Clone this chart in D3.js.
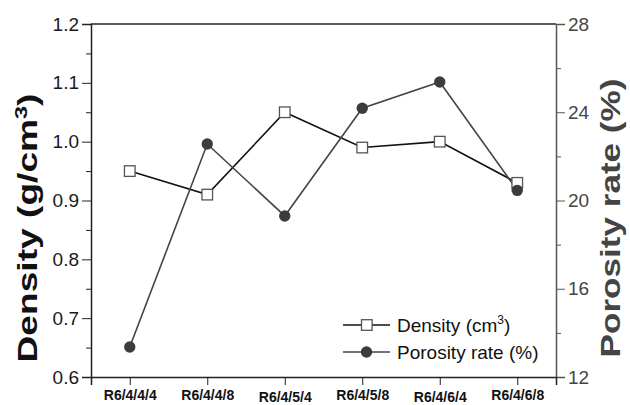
<!DOCTYPE html>
<html><head><meta charset="utf-8">
<script src="https://cdn.jsdelivr.net/npm/d3@7"></script>
<style>body{margin:0;background:#fff}svg{display:block}text{font-family:"Liberation Sans",Arial,sans-serif}</style>
</head><body><svg id="c" width="630" height="405"></svg>
<script>
const categories = ["R6/4/4/4","R6/4/4/8","R6/4/5/4","R6/4/5/8","R6/4/6/4","R6/4/6/8"];
const density = [0.95, 0.91, 1.05, 0.99, 1.00, 0.93];
const porosity = [13.36, 22.56, 19.30, 24.18, 25.37, 20.46];
const leftTicks = [0.6,0.7,0.8,0.9,1.0,1.1,1.2];
const leftMinor = [0.65,0.75,0.85,0.95,1.05,1.15];
const rightTicks = [12,16,20,24,28];
const rightMinor = [14,18,22,26];

const FF = "Liberation Sans, Arial, sans-serif";
const svg = d3.select("#c");
const L=91,R=556,T=24,B=377;
const x = d3.scaleLinear().domain([0.5,6.5]).range([L,R]);
const yL = d3.scaleLinear().domain([0.6,1.2]).range([B,T]);
const yR = d3.scaleLinear().domain([12,28]).range([B,T]);

// top frame
svg.append("line").attr("x1",L).attr("x2",R).attr("y1",T).attr("y2",T).attr("stroke","#222").attr("stroke-width",1.5);
// left axis
const gl = svg.append("g").attr("transform",`translate(${L},0)`)
  .call(d3.axisLeft(yL).tickValues(leftTicks).tickFormat(d3.format(".1f")).tickSize(9).tickPadding(3));
gl.select(".domain").attr("stroke","#222").attr("stroke-width",1.5);
gl.selectAll(".tick line").attr("stroke","#222");
gl.selectAll("text").attr("font-size",19).attr("fill","#1a1a1a").attr("font-family",FF);
svg.append("g").attr("transform",`translate(${L},0)`)
  .call(d3.axisLeft(yL).tickValues(leftMinor).tickSize(5).tickFormat(""))
  .call(g=>{g.select(".domain").remove();g.selectAll("line").attr("stroke","#222");});
// right axis
const gr = svg.append("g").attr("transform",`translate(${R},0)`)
  .call(d3.axisRight(yR).tickValues(rightTicks).tickSize(9).tickPadding(3));
gr.select(".domain").attr("stroke","#555").attr("stroke-width",1.5);
gr.selectAll(".tick line").attr("stroke","#555");
gr.selectAll("text").attr("font-size",19).attr("fill","#444").attr("font-family",FF);
svg.append("g").attr("transform",`translate(${R},0)`)
  .call(d3.axisRight(yR).tickValues(rightMinor).tickSize(5).tickFormat(""))
  .call(g=>{g.select(".domain").remove();g.selectAll("line").attr("stroke","#555");});
// bottom axis
const gb = svg.append("g").attr("transform",`translate(0,${B})`)
  .call(d3.axisBottom(x).tickValues(d3.range(1,7)).tickFormat((d,i)=>categories[i]).tickSize(8));
gb.select(".domain").attr("stroke","#222").attr("stroke-width",1.5);
gb.selectAll(".tick line").attr("stroke","#222");
gb.selectAll("text").attr("font-size",14).attr("font-weight","bold").attr("fill","#111")
  .attr("font-family",FF).attr("dy","0")
  .attr("y",(d,i)=> (i===2||i===4) ? 24.5 : 22.5);

// titles (stretched along their length to match the reference)
function title(cx, cy, len, color, html){
  const g = svg.append("g").attr("transform",`translate(${cx},${cy}) rotate(-90)`);
  const inner = g.append("g");
  const t = inner.append("text").attr("text-anchor","middle").attr("font-size",27)
    .attr("font-weight","bold").attr("fill",color).attr("font-family",FF).html(html);
  const w = t.node().getBBox().width;
  inner.attr("transform",`scale(${len/w},1)`);
}
title(37, 228, 269, "#111", 'Density (g/cm<tspan dy="-10" font-size="17">3</tspan><tspan dy="10">)</tspan>');
title(620, 218, 279, "#444", 'Porosity rate (%)');

// lines
const idx = d3.range(categories.length);
svg.append("path").datum(idx).attr("fill","none").attr("stroke","#111").attr("stroke-width",1.6)
  .attr("d",d3.line().x(i=>x(i+1)).y(i=>yL(density[i])));
svg.append("path").datum(idx).attr("fill","none").attr("stroke","#444").attr("stroke-width",1.6)
  .attr("d",d3.line().x(i=>x(i+1)).y(i=>yR(porosity[i])));
svg.selectAll(".sq").data(idx).join("rect").attr("x",i=>x(i+1)-5.3).attr("y",i=>yL(density[i])-5.3)
  .attr("width",10.6).attr("height",10.6).attr("fill","#fff").attr("stroke","#555").attr("stroke-width",1.3);
svg.selectAll(".ci").data(idx).join("circle").attr("cx",i=>x(i+1)).attr("cy",i=>yR(porosity[i]))
  .attr("r",5.7).attr("fill","#3c3c3c");

// legend
const lg = svg.append("g");
const ly1=325, ly2=352, lx=343;
lg.append("line").attr("x1",lx).attr("x2",lx+47).attr("y1",ly1).attr("y2",ly1).attr("stroke","#111").attr("stroke-width",1.6);
lg.append("rect").attr("x",lx+18.5).attr("y",ly1-5.3).attr("width",10.6).attr("height",10.6).attr("fill","#fff").attr("stroke","#555").attr("stroke-width",1.3);
lg.append("text").attr("x",lx+54).attr("y",ly1+7).attr("font-size",19).attr("fill","#111").attr("font-family",FF)
  .html('Density (cm<tspan dy="-8" font-size="12">3</tspan><tspan dy="8">)</tspan>');
lg.append("line").attr("x1",lx).attr("x2",lx+47).attr("y1",ly2).attr("y2",ly2).attr("stroke","#444").attr("stroke-width",1.6);
lg.append("circle").attr("cx",lx+23.5).attr("cy",ly2).attr("r",5.7).attr("fill","#3c3c3c");
lg.append("text").attr("x",lx+54).attr("y",ly2+7).attr("font-size",19).attr("fill","#111").attr("font-family",FF).text("Porosity rate (%)");
</script></body></html>
